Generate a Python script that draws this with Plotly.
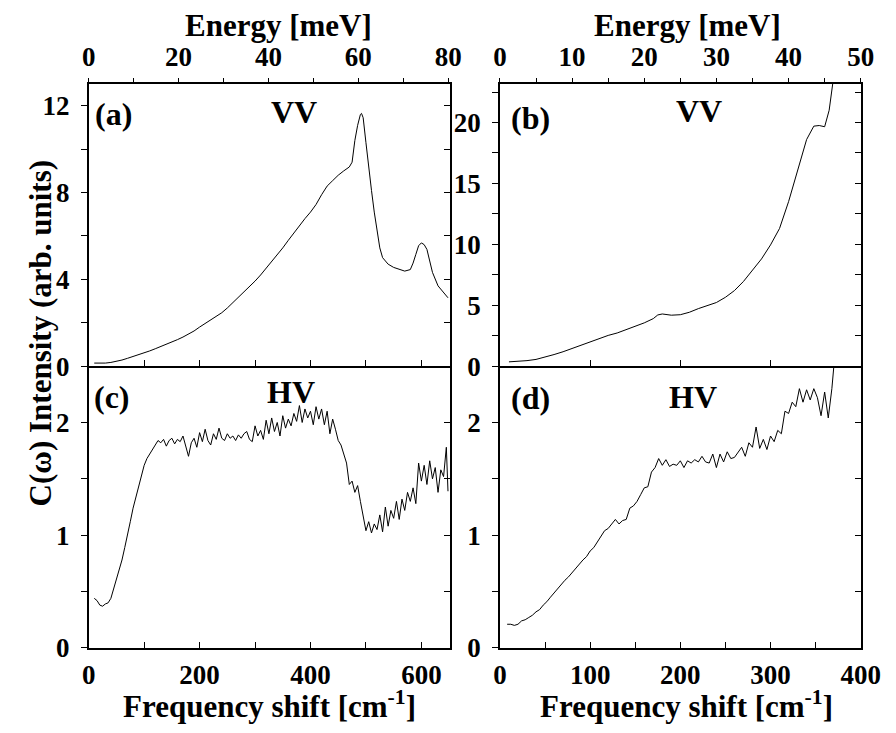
import plotly.graph_objects as go

# ---------------- data ----------------
# (a) VV, 0-650 cm^-1
a_w = [10, 20, 30, 40, 50, 60, 70, 80, 90, 100, 110, 120, 130, 140, 150, 160, 170, 180, 190, 200,
       210, 220, 230, 240, 250, 260, 270, 280, 290, 300, 310, 320, 330, 340, 350, 360, 370, 380, 390, 400,
       410, 420, 430, 440, 450, 460, 470, 475, 480, 485, 490, 492, 495, 500, 505, 510, 515, 520, 525, 530,
       540, 550, 560, 570, 580, 585, 590, 595, 600, 605, 610, 615, 620, 630, 640, 648]
a_I = [0.14, 0.13, 0.14, 0.17, 0.22, 0.28, 0.36, 0.44, 0.52, 0.60, 0.70, 0.80, 0.90, 1.00, 1.10, 1.22, 1.34, 1.47, 1.62, 1.80,
       1.96, 2.12, 2.28, 2.46, 2.68, 2.92, 3.16, 3.40, 3.66, 3.92, 4.20, 4.50, 4.80, 5.12, 5.45, 5.80, 6.15, 6.48, 6.80, 7.10,
       7.45, 7.90, 8.30, 8.55, 8.80, 9.00, 9.18, 9.40, 10.4, 11.1, 11.6, 11.65, 11.45, 10.3, 9.1, 8.1, 7.1, 6.15, 5.45, 5.00,
       4.70, 4.55, 4.45, 4.38, 4.45, 4.75, 5.15, 5.55, 5.68, 5.60, 5.38, 4.85, 4.32, 3.70, 3.40, 3.15]

# (b) VV, 0-400 cm^-1
b_w = [10, 20, 30, 40, 50, 60, 70, 80, 90, 100, 110, 120, 130, 140, 150, 160, 170, 175, 180, 190,
       200, 210, 220, 230, 240, 250, 260, 270, 280, 290, 300, 310, 320, 330, 340, 348, 354, 360, 365, 369, 372]
b_I = [0.35, 0.38, 0.45, 0.55, 0.72, 0.95, 1.18, 1.45, 1.72, 2.02, 2.28, 2.52, 2.72, 2.98, 3.25, 3.55, 3.90, 4.20, 4.28, 4.18,
       4.22, 4.42, 4.72, 4.95, 5.22, 5.65, 6.20, 6.95, 7.85, 8.80, 9.95, 11.30, 13.50, 16.10, 18.60, 19.70, 19.75, 19.65, 21.0, 23.2, 25.0]

# (c) HV, 0-650 cm^-1
c_w = [10, 15, 20, 25, 30, 35, 40, 45, 50, 55, 60, 65, 70, 75, 80, 85, 90, 95, 100, 105,
       110, 115, 120, 125, 130, 135, 140, 145, 150, 155, 160, 165, 170, 175, 180, 185, 190, 195, 200, 205,
       210, 215, 220, 225, 230, 235, 240, 245, 250, 255, 260, 265, 270, 275, 280, 285, 290, 295, 300, 305,
       310, 315, 320, 325, 330, 335, 340, 345, 350, 355, 360, 365, 370, 375, 380, 385, 390, 395, 400, 405,
       410, 415, 420, 425, 430, 435, 440, 445, 450, 455, 460, 465, 470, 475, 480, 485, 490, 495, 500, 505,
       510, 515, 520, 525, 530, 535, 540, 545, 550, 555, 560, 565, 570, 575, 580, 585, 590, 595, 600, 605,
       610, 615, 620, 625, 630, 635, 640, 645, 648]
c_I = [0.44, 0.42, 0.38, 0.37, 0.39, 0.40, 0.44, 0.52, 0.60, 0.68, 0.78, 0.89, 1.02, 1.12, 1.24, 1.34, 1.44, 1.54, 1.62, 1.68,
       1.72, 1.77, 1.80, 1.84, 1.82, 1.85, 1.79, 1.84, 1.86, 1.81, 1.85, 1.83, 1.88, 1.80, 1.70, 1.82, 1.86, 1.78, 1.91, 1.83,
       1.94, 1.84, 1.80, 1.90, 1.85, 1.95, 1.86, 1.84, 1.90, 1.86, 1.88, 1.84, 1.89, 1.86, 1.90, 1.92, 1.85, 1.83, 1.97, 1.88,
       1.93, 1.85, 2.02, 1.90, 2.04, 1.92, 2.00, 1.88, 2.06, 1.95, 2.03, 1.97, 2.08, 2.01, 2.15, 2.00, 2.12, 2.04, 2.10, 1.98,
       2.14, 2.03, 2.12, 1.98, 2.10, 1.90, 2.03, 1.94, 1.84, 1.80, 1.72, 1.64, 1.45, 1.48, 1.38, 1.44, 1.30, 1.18, 1.04, 1.12,
       1.02, 1.10, 1.05, 1.18, 1.03, 1.25, 1.08, 1.22, 1.15, 1.30, 1.14, 1.32, 1.22, 1.38, 1.30, 1.42, 1.28, 1.64, 1.48, 1.62,
       1.45, 1.66, 1.50, 1.60, 1.38, 1.58, 1.52, 1.78, 1.39]

# (d) HV, 0-400 cm^-1
d_w = [8, 12, 16, 20, 24, 28, 32, 36, 40, 44, 48, 52, 56, 60, 64, 68, 72, 76, 80, 84,
       88, 92, 96, 100, 104, 108, 112, 116, 120, 124, 128, 132, 136, 140, 144, 148, 152, 156, 160, 164,
       168, 172, 176, 180, 184, 188, 192, 196, 200, 204, 208, 212, 216, 220, 224, 228, 232, 236, 240, 244,
       248, 252, 256, 260, 264, 268, 272, 276, 280, 284, 288, 292, 296, 300, 304, 308, 312, 316, 320, 324,
       328, 332, 336, 340, 344, 348, 352, 356, 360, 364, 368, 370, 373]
d_I = [0.21, 0.21, 0.20, 0.21, 0.24, 0.25, 0.27, 0.29, 0.32, 0.34, 0.38, 0.41, 0.45, 0.49, 0.52, 0.56, 0.60, 0.63, 0.67, 0.70,
       0.74, 0.78, 0.81, 0.86, 0.89, 0.94, 0.98, 1.04, 1.06, 1.10, 1.14, 1.10, 1.13, 1.14, 1.24, 1.26, 1.30, 1.36, 1.42, 1.43,
       1.56, 1.60, 1.68, 1.62, 1.67, 1.61, 1.63, 1.62, 1.66, 1.60, 1.66, 1.64, 1.67, 1.65, 1.70, 1.65, 1.64, 1.72, 1.60, 1.72,
       1.65, 1.74, 1.68, 1.69, 1.73, 1.78, 1.70, 1.82, 1.78, 1.96, 1.77, 1.85, 1.76, 1.88, 1.83, 1.93, 1.90, 2.10, 2.08, 2.18,
       2.14, 2.30, 2.18, 2.29, 2.20, 2.30, 2.22, 2.06, 2.27, 2.04, 2.30, 2.45, 2.75]

panel_labels = ["(a)", "(b)", "(c)", "(d)"]
pol_labels = ["VV", "VV", "HV", "HV"]
CM_PER_MEV = 8.0655

# ---------------- geometry ----------------
W, H = 896, 733
FONT = "Liberation Serif"
def px(x):
    return x / W
def py(y):
    return 1 - y / H

xl = [px(76), px(448)]
xr = [px(500), px(872)]
yt = [py(365.6), py(77.7)]
yb = [py(653.3), py(365.6)]

def tf():
    return dict(family=FONT, size=27, color="black", weight=700)
LW = 1.6

fig = go.Figure()
line = dict(color="black", width=1)
ghost = dict(color="rgba(0,0,0,0)", width=0)
series = [(a_w, a_I, "x", "y", "x2", "y2"),
          (b_w, b_I, "x3", "y3", "x4", "y4"),
          (c_w, c_I, "x5", "y5", None, "y6"),
          (d_w, d_I, "x6", "y7", None, "y8")]
for w, I, xa, ya, xtopa, yra in series:
    fig.add_trace(go.Scatter(x=w, y=I, mode="lines", line=line, xaxis=xa, yaxis=ya, hoverinfo="skip"))
    # invisible copies so the overlay axes (top energy axis, right frame axis) are drawn
    if xtopa:
        fig.add_trace(go.Scatter(x=[v / CM_PER_MEV for v in w], y=I, mode="lines", line=ghost,
                                 xaxis=xtopa, yaxis=ya, hoverinfo="skip"))
    fig.add_trace(go.Scatter(x=w, y=I, mode="lines", line=ghost, xaxis=xa, yaxis=yra, hoverinfo="skip"))

def xbase(domain, anchor, rng, dtick, minor, labels):
    return dict(domain=domain, anchor=anchor, range=rng, showgrid=False, zeroline=False,
                showline=True, linecolor="black", linewidth=LW, mirror=False,
                ticks="inside", ticklen=6, tickwidth=1.2, tickcolor="black",
                dtick=dtick, tick0=0, showticklabels=labels, tickfont=tf(),
                tickprefix="<b>", ticksuffix="</b>",
                ticklabelstandoff=2,
                minor=dict(dtick=minor, ticks="inside", ticklen=6, tickwidth=1.2, tickcolor="black", showgrid=False))

def xtop(domain, anchor, overlay, rng, dtick, minor):
    return dict(domain=domain, anchor=anchor, overlaying=overlay, side="top", range=rng,
                showgrid=False, zeroline=False, showline=True, linecolor="black", linewidth=LW,
                ticks="outside", ticklen=4, tickwidth=1.2, tickcolor="black",
                dtick=dtick, tick0=0, tickfont=tf(), ticklabelstandoff=2,
                tickprefix="<b>", ticksuffix="</b>",
                minor=dict(dtick=minor, ticks="outside", ticklen=4, tickwidth=1.2, tickcolor="black", showgrid=False))

def yleft(domain, anchor, rng, dtick, minor):
    return dict(domain=domain, anchor=anchor, range=rng, showgrid=False, zeroline=False,
                showline=True, linecolor="black", linewidth=LW,
                ticks="outside", ticklen=6, tickwidth=1.2, tickcolor="black",
                dtick=dtick, tick0=0, tickfont=tf(), ticklabelstandoff=6,
                tickprefix="<b>", ticksuffix="</b>",
                minor=dict(dtick=minor, ticks="outside", ticklen=6, tickwidth=1.2, tickcolor="black", showgrid=False))

def yright(domain, anchor, overlay, rng, minor):
    return dict(domain=domain, anchor=anchor, overlaying=overlay, side="right", range=rng,
                showgrid=False, zeroline=False, showline=True, linecolor="black", linewidth=LW,
                ticks="inside", ticklen=6, tickwidth=1.2, tickcolor="black",
                dtick=minor, tick0=0, showticklabels=False)

fig.update_layout(
    width=W, height=H, margin=dict(l=0, r=0, t=0, b=0),
    paper_bgcolor="white", plot_bgcolor="white", showlegend=False,
    # panel a
    xaxis=xbase(xl, "y", [0, 650.7], 200, 100, False),
    xaxis2=xtop(xl, "y", "x", [0, 80.28], 20, 10),
    yaxis=yleft(yt, "x", [0, 13.0], 4, 2),
    yaxis2=yright(yt, "x", "y", [0, 13.0], 2),
    # panel b
    xaxis3=xbase(xr, "y3", [0, 400], 100, 100, False),
    xaxis4=xtop(xr, "y3", "x3", [0, 50], 10, 5),
    yaxis3=yleft(yt, "x3", [0, 23.15], 5, 2.5),
    yaxis4=yright(yt, "x3", "y3", [0, 23.15], 2.5),
    # panel c
    xaxis5=xbase(xl, "y5", [0, 650.7], 200, 100, True),
    yaxis5=yleft(yb, "x5", [0, 2.5], 1, 0.5),
    yaxis6=yright(yb, "x5", "y5", [0, 2.5], 0.5),
    # panel d
    xaxis6=xbase(xr, "y7", [0, 400], 100, 50, True),
    yaxis7=yleft(yb, "x6", [0, 2.5], 1, 0.5),
    yaxis8=yright(yb, "x6", "y7", [0, 2.5], 0.5),
)

titlefont = dict(family=FONT, size=31, color="black", weight=700)
labfont = dict(family=FONT, size=32, color="black", weight=700)
ann = []
def add(text, x, y, font, angle=0):
    ann.append(dict(text=text, x=px(x), y=py(y), xref="paper", yref="paper", showarrow=False,
                    font=font, textangle=angle, xanchor="center", yanchor="middle"))

add("Energy [meV]", 272, 18, titlefont)
add("Energy [meV]", 693, 18, titlefont)
add("Frequency shift [cm<sup>-1</sup>]", 262, 711, titlefont)
add("Frequency shift [cm<sup>-1</sup>]", 692, 711, titlefont)
add("C(ω) Intensity (arb. units)", 26, 332, titlefont, -90)

pos_panel = [(102, 108), (532, 112), (100, 397), (532, 398)]
pos_pol = [(288, 106), (705, 105), (285, 392), (699, 397)]
for t, (x, y) in zip(panel_labels, pos_panel):
    add(t, x, y, labfont)
for t, (x, y) in zip(pol_labels, pos_pol):
    add(t, x, y, labfont)

fig.update_layout(annotations=ann)
fig.write_html("out.html")
